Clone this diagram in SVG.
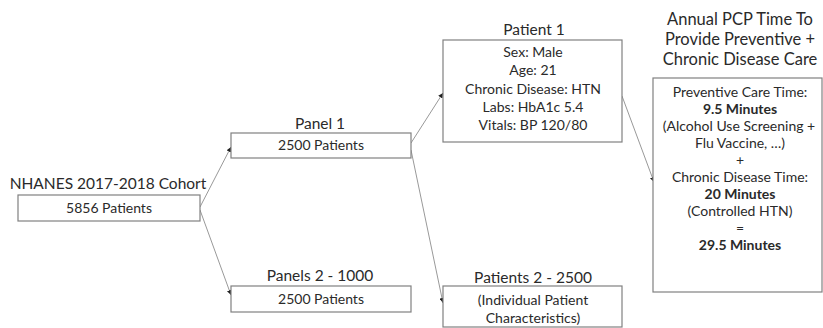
<svg xmlns="http://www.w3.org/2000/svg" width="823" height="328" viewBox="0 0 823 328">
<style>
text{font-family:Lato,"Open Sans","Liberation Sans",sans-serif;fill:#2a2a2a;text-anchor:middle}
.t{font-size:15.5px}
.b{font-size:14px}
.h{font-size:16.5px}
.bold{font-weight:bold}
rect{fill:#fff;stroke:#808080;stroke-width:1.2}
.c line{stroke:#999;stroke-width:1;marker-end:url(#ah)}
</style>
<defs>
<marker id="ah" viewBox="0 0 6 6" refX="6" refY="3" markerWidth="5" markerHeight="5" orient="auto" markerUnits="userSpaceOnUse">
<path d="M0,0 L6,3 L0,6 z" fill="#222"/>
</marker>
</defs>
<g class="c" id="connectors">
<line x1="200" y1="207" x2="231" y2="147"/>
<line x1="200" y1="210" x2="231" y2="295"/>
<line x1="411" y1="143" x2="443" y2="93"/>
<line x1="411" y1="150" x2="443" y2="303"/>
<line x1="622" y1="96" x2="654" y2="182"/>
</g>
<g id="cohort">
<text class="t" x="108" y="189">NHANES 2017-2018 Cohort</text>
<rect x="18" y="195" width="182" height="26"/>
<text class="b" x="109" y="213">5856 Patients</text>
</g>
<g id="panel1">
<text class="t" x="320" y="129">Panel 1</text>
<rect x="231" y="133" width="180" height="25"/>
<text class="b" x="321" y="150">2500 Patients</text>
</g>
<g id="panels2">
<text class="t" x="320" y="281">Panels 2 - 1000</text>
<rect x="231" y="286" width="180" height="26"/>
<text class="b" x="321" y="304">2500 Patients</text>
</g>
<g id="patient1">
<text class="t" x="534" y="35">Patient 1</text>
<rect x="443" y="40" width="179" height="102"/>
<text class="b" x="533" y="57">Sex: Male</text>
<text class="b" x="533" y="75">Age: 21</text>
<text class="b" x="533" y="94">Chronic Disease: HTN</text>
<text class="b" x="533" y="112">Labs: HbA1c 5.4</text>
<text class="b" x="533" y="130">Vitals: BP 120/80</text>
</g>
<g id="patients2">
<text class="t" x="533" y="283">Patients 2 - 2500</text>
<rect x="443" y="286" width="179" height="41"/>
<text class="b" x="533" y="305">(Individual Patient</text>
<text class="b" x="533" y="323">Characteristics)</text>
</g>
<g id="annual">
<text class="h" x="740" y="25">Annual PCP Time To</text>
<text class="h" x="740" y="45">Provide Preventive +</text>
<text class="h" x="740" y="65">Chronic Disease Care</text>
<rect x="653" y="78" width="169" height="214"/>
<text class="b" x="740" y="97">Preventive Care Time:</text>
<text class="b bold" x="740" y="114">9.5 Minutes</text>
<text class="b" x="739" y="131">(Alcohol Use Screening +</text>
<text class="b" x="740" y="148">Flu Vaccine,  …)</text>
<text class="b" x="740" y="165">+</text>
<text class="b" x="740" y="182">Chronic Disease Time:</text>
<text class="b bold" x="740" y="199">20 Minutes</text>
<text class="b" x="740" y="216">(Controlled HTN)</text>
<text class="b" x="740" y="233">=</text>
<text class="b bold" x="740" y="250">29.5 Minutes</text>
</g>
</svg>
